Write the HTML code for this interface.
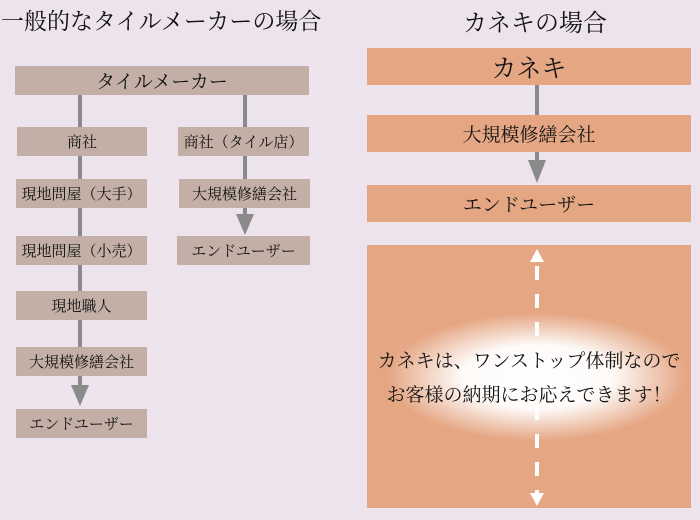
<!DOCTYPE html>
<html><head><meta charset="utf-8"><style>
body{margin:0;width:700px;height:520px;background:#ede3ed;position:relative;overflow:hidden;font-family:"Liberation Serif","Noto Serif CJK SC",serif;color:#111}
.b{position:absolute;background:#c3afa5;display:flex;align-items:center;justify-content:center;font-size:15px;white-space:nowrap}
.o{position:absolute;background:#e5a683;display:flex;align-items:center;justify-content:center;font-size:19px;white-space:nowrap}
.t{position:absolute;font-size:23px;white-space:nowrap}
svg{position:absolute;left:0;top:0}
</style></head><body>
<div class="t" style="left:1px;top:3px">一般的なタイルメーカーの場合</div>
<div class="t" style="left:463px;top:3px;font-size:24px">カネキの場合</div>
<svg width="700" height="520">
<defs><radialGradient id="g" cx="50%" cy="50%" r="50%"><stop offset="0" stop-color="#fff"/><stop offset="0.5" stop-color="#fff" stop-opacity="0.95"/><stop offset="1" stop-color="#fff" stop-opacity="0"/></radialGradient></defs>
<g stroke="#8a8a8a" stroke-width="4">
<line x1="80" y1="95" x2="80" y2="385"/>
<line x1="245" y1="95" x2="245" y2="218"/>
<line x1="537" y1="85" x2="537" y2="168"/>
</g>
<g fill="#8a8a8a">
<polygon points="71,385 89,385 80,406"/>
<polygon points="236,214 254,214 245,235"/>
<polygon points="528,160 546,160 537,183"/>
</g>
</svg>
<div class="b" style="left:15px;top:66px;width:294px;height:29px;font-size:19px">タイルメーカー</div>
<div class="b" style="left:17px;top:127px;width:130px;height:29px">商社</div>
<div class="b" style="left:178px;top:127px;width:131px;height:29px">商社（タイル店）</div>
<div class="b" style="left:16px;top:179px;width:131px;height:29px">現地問屋（大手）</div>
<div class="b" style="left:179px;top:179px;width:131px;height:29px">大規模修繕会社</div>
<div class="b" style="left:16px;top:236px;width:131px;height:29px">現地問屋（小売）</div>
<div class="b" style="left:177px;top:236px;width:133px;height:29px">エンドユーザー</div>
<div class="b" style="left:16px;top:291px;width:131px;height:29px">現地職人</div>
<div class="b" style="left:16px;top:347px;width:131px;height:29px">大規模修繕会社</div>
<div class="b" style="left:16px;top:409px;width:131px;height:29px">エンドユーザー</div>
<div class="o" style="left:367px;top:48px;width:324px;height:37px;font-size:25px">カネキ</div>
<div class="o" style="left:367px;top:115px;width:324px;height:37px">大規模修繕会社</div>
<div class="o" style="left:367px;top:185px;width:324px;height:37px">エンドユーザー</div>
<div class="o" style="left:367px;top:245px;width:324px;height:263px"></div>
<svg width="700" height="520">
<ellipse cx="537" cy="377" rx="150" ry="64" fill="url(#g)"/>
<g stroke="#fff" stroke-width="4"><line x1="537" y1="262" x2="537" y2="494" stroke-dasharray="14,14" stroke-dashoffset="-4"/></g>
<g fill="#fff"><polygon points="530,262 544,262 537,249"/><polygon points="530,493 544,493 537,506"/></g>
</svg>
<div style="position:absolute;left:367px;width:324px;top:345px;text-align:center;font-size:19px;line-height:34px;white-space:nowrap">カネキは、ワンストップ体制なので<br>お客様の納期にお応えできます！</div>
</body></html>
